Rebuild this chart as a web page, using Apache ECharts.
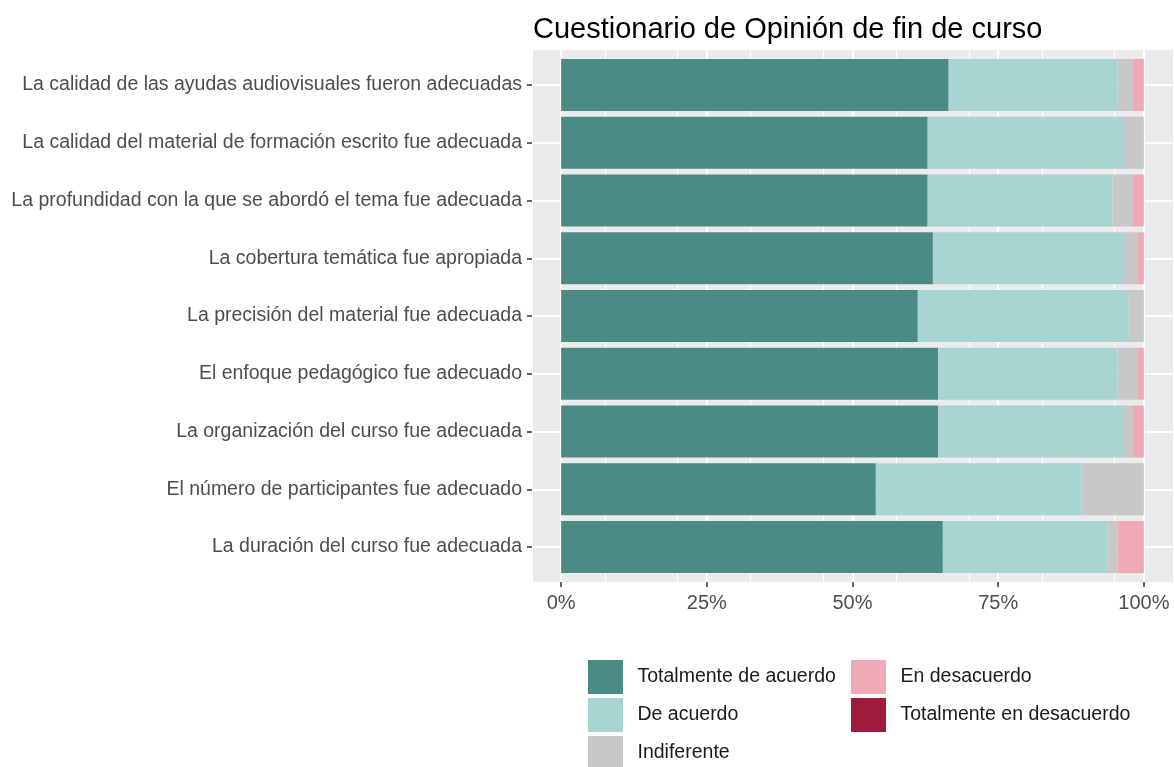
<!DOCTYPE html>
<html>
<head>
<meta charset="utf-8">
<script src="https://cdn.jsdelivr.net/npm/echarts@6/dist/echarts.min.js"></script>
<style>html,body{margin:0;padding:0;background:#fff}#c{width:1174px;height:767px}</style>
</head>
<body>
<div id="c"></div>
<script>
var titleText = 'Cuestionario de Opinión de fin de curso';
var categories = [
  'La calidad de las ayudas audiovisuales fueron adecuadas',
  'La calidad del material de formación escrito fue adecuada',
  'La profundidad con la que se abordó el tema fue adecuada',
  'La cobertura temática fue apropiada',
  'La precisión del material fue adecuada',
  'El enfoque pedagógico fue adecuado',
  'La organización del curso fue adecuada',
  'El número de participantes fue adecuado',
  'La duración del curso fue adecuada'
];
var seriesNames = ['Totalmente de acuerdo', 'De acuerdo', 'Indiferente', 'En desacuerdo', 'Totalmente en desacuerdo'];
var totalmenteDeAcuerdo = [66.5, 62.9, 62.9, 63.8, 61.2, 64.7, 64.7, 54.0, 65.5];
var deAcuerdo = [29.0, 33.7, 31.7, 32.8, 36.2, 30.8, 31.9, 35.3, 28.3];
var indiferente = [2.6, 3.4, 3.5, 2.4, 2.6, 3.5, 1.5, 10.7, 1.7];
var enDesacuerdo = [1.9, 0, 1.9, 1.0, 0, 1.0, 1.9, 0, 4.5];
var totalmenteEnDesacuerdo = [0, 0, 0, 0, 0, 0, 0, 0, 0];
var majorTicks = [0, 25, 50, 75, 100];
var colors = ['#4a8b86', '#a8d4d1', '#c8c8c8', '#f0aab6', '#9e1b3d'];

var values = [totalmenteDeAcuerdo, deAcuerdo, indiferente, enDesacuerdo, totalmenteEnDesacuerdo];
var font = 'Liberation Sans, Arial, sans-serif';

// legend layout: column 1 has three entries, column 2 has two
var legendCols = [[0, 1, 2], [3, 4]];
var legendLeft = [587, 850];
var legends = [];
legendCols.forEach(function (col, ci) {
  col.forEach(function (si, ri) {
    legends.push({
      data: [seriesNames[si]], orient: 'vertical', left: legendLeft[ci], top: 659 + ri * 38, padding: 0,
      itemWidth: 36, itemHeight: 35, icon: 'rect', selectedMode: false,
      itemStyle: {borderColor: '#fff', borderWidth: 1},
      textStyle: {fontSize: 19.5, color: '#1a1a1a', padding: [0, 0, 0, 9], fontFamily: font}
    });
  });
});

var chart = echarts.init(document.getElementById('c'), null, {renderer: 'canvas'});
var option = {
  animation: false,
  textStyle: {fontFamily: font},
  title: {
    text: titleText, left: 528, top: 10,
    textStyle: {fontSize: 29, fontWeight: 'normal', color: '#000', fontFamily: font}
  },
  grid: [
    {left: 532, right: 1, top: 50, bottom: 185, show: true, backgroundColor: '#ebebeb', borderWidth: 0, containLabel: false},
    {left: 532, right: 1, top: 85, bottom: 220, show: false, containLabel: false}
  ],
  xAxis: [
    {gridIndex: 0, type: 'value', min: -5, max: 105, interval: 12.5, position: 'bottom',
      axisLine: {show: false}, axisTick: {show: false}, axisLabel: {show: false},
      splitLine: {show: true, lineStyle: {color: '#ffffff', width: 1}}},
    {gridIndex: 0, type: 'value', min: -5, max: 105, position: 'bottom',
      axisLine: {show: false},
      axisTick: {show: true, length: 5, customValues: majorTicks, lineStyle: {color: '#333', width: 1.5}},
      axisLabel: {show: true, customValues: majorTicks, formatter: '{value}%', fontSize: 20, color: '#4d4d4d', margin: 11, fontFamily: font},
      splitLine: {show: true, lineStyle: {color: '#ffffff', width: 2}}},
    {gridIndex: 1, type: 'value', min: -5, max: 105, show: false, axisLine: {onZero: false}}
  ],
  yAxis: [
    {gridIndex: 0, type: 'value', min: 0, max: 1, show: false, splitLine: {show: false}},
    {gridIndex: 1, type: 'category', data: categories, inverse: true, boundaryGap: false, position: 'left',
      axisLine: {show: false, onZero: false},
      axisTick: {show: true, length: 5, lineStyle: {color: '#333', width: 1.5}},
      axisLabel: {fontSize: 19.5, color: '#4d4d4d', margin: 10, fontFamily: font},
      splitLine: {show: true, lineStyle: {color: '#ffffff', width: 2}}}
  ],
  legend: legends,
  series: seriesNames.map(function (name, i) {
    return {
      name: name, type: 'bar', stack: 'total', xAxisIndex: 2, yAxisIndex: 1,
      data: values[i], barCategoryGap: '10%', clip: false,
      itemStyle: {color: colors[i]}, emphasis: {disabled: true}
    };
  })
};
chart.setOption(option);
</script>
</body>
</html>
